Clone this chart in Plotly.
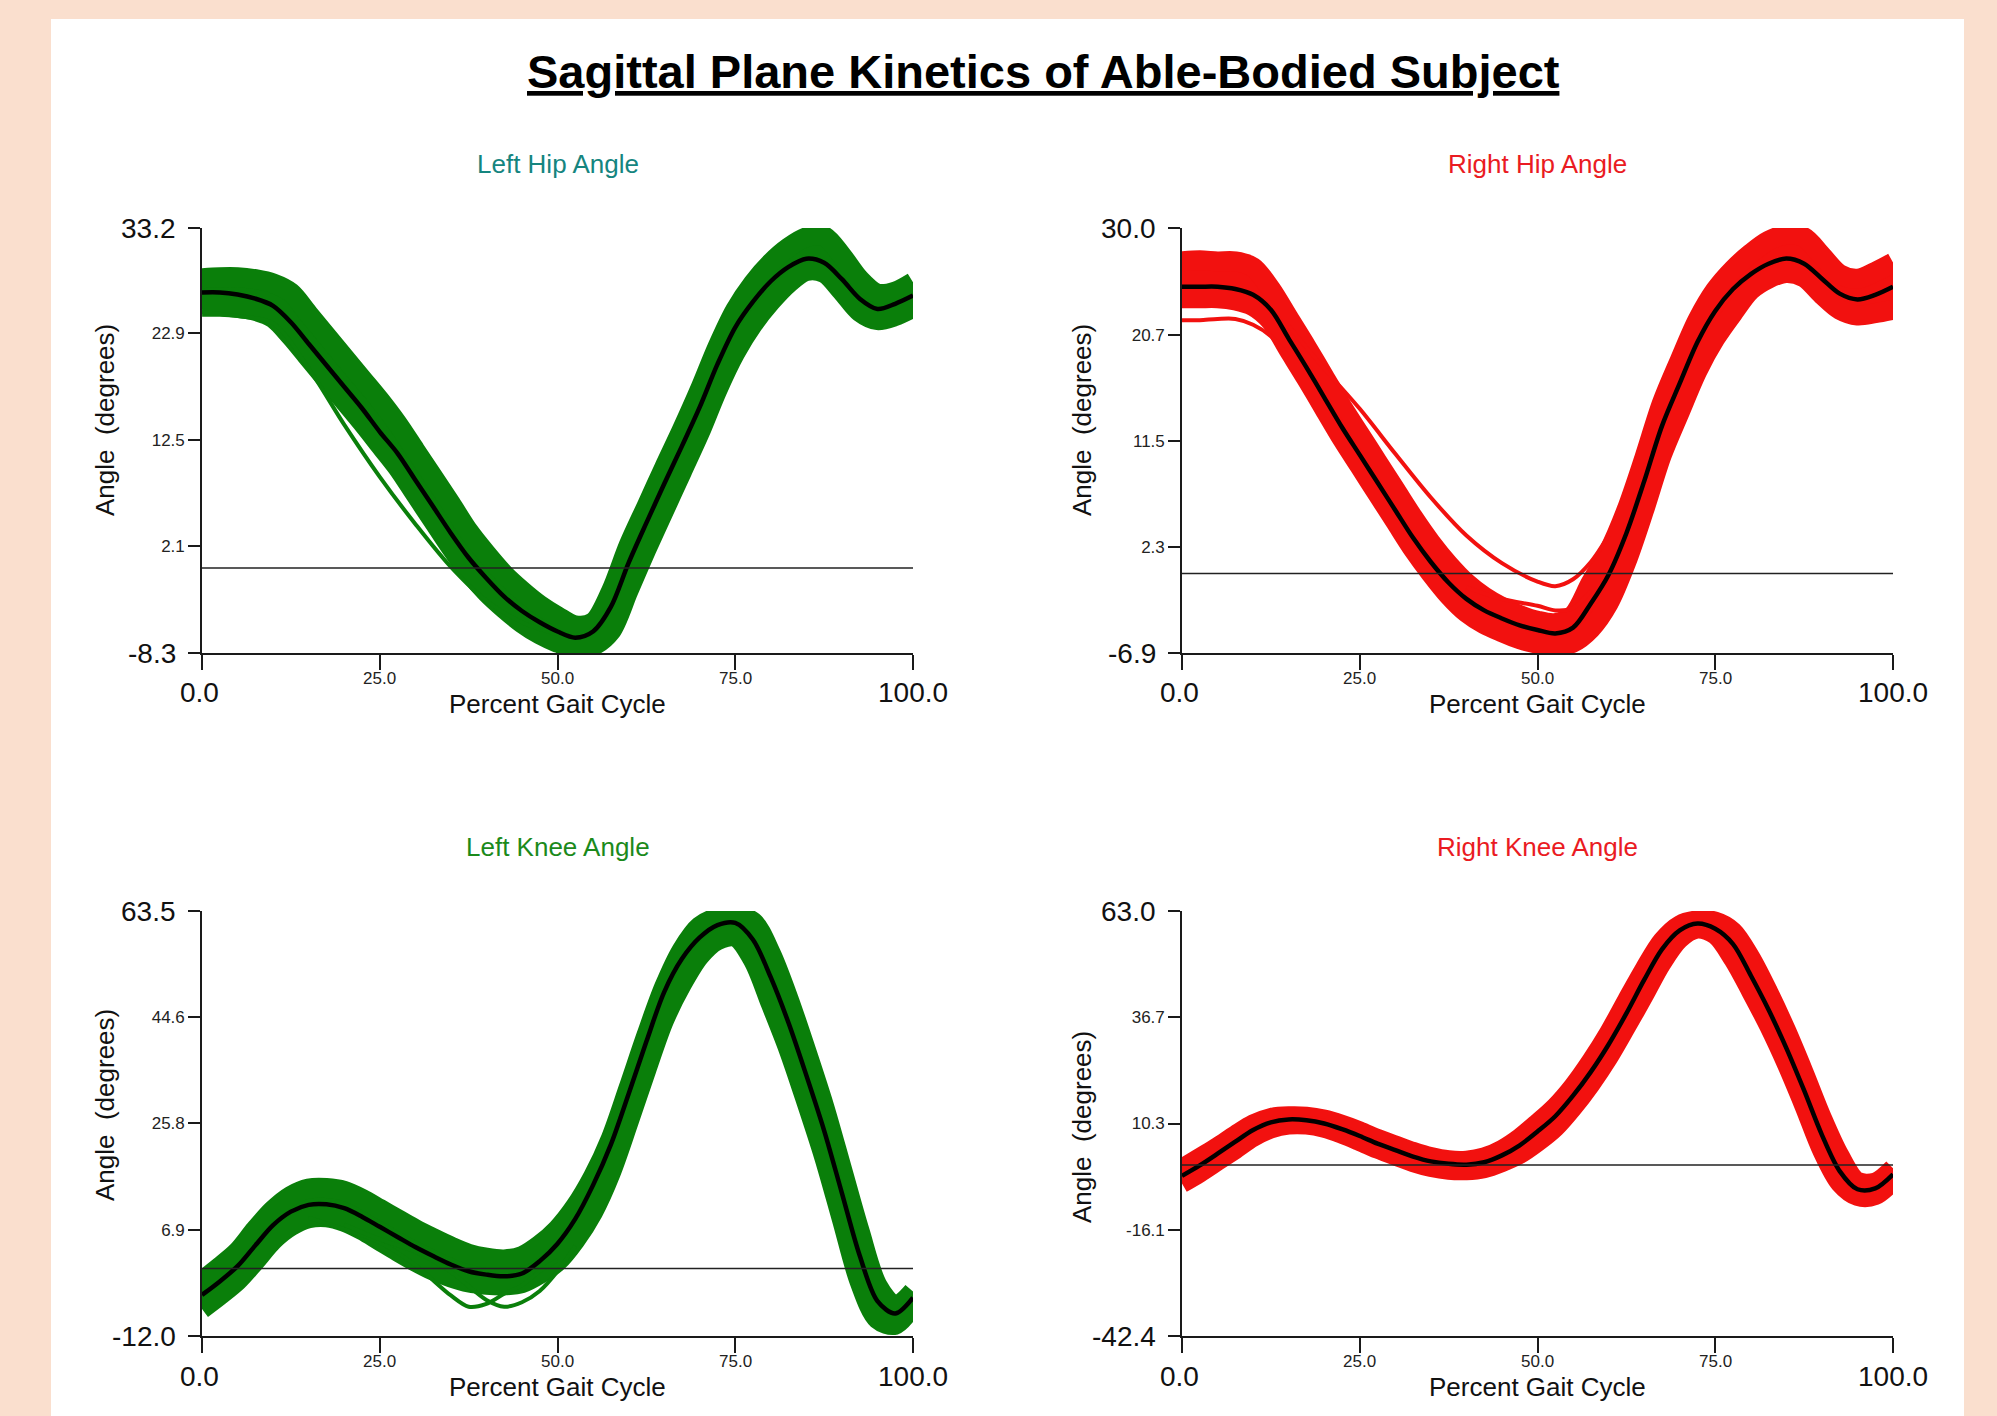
import plotly.graph_objects as go

# ---------------- data ----------------
X = [0, 2.5, 5, 7.5, 10, 12.5, 15, 17.5, 20, 22.5, 25, 27.5, 30, 32.5, 35, 37.5, 40,
     42.5, 45, 47.5, 50, 52.5, 55, 57.5, 60, 62.5, 65, 67.5, 70, 72.5, 75, 77.5, 80,
     82.5, 85, 87.5, 90, 92.5, 95, 97.5, 100]

# Left hip angle
lhip_mean = [26.9, 26.9, 26.7, 26.3, 25.6, 24.0, 21.9, 19.8, 17.7, 15.6, 13.3, 11.2, 8.6, 6.0,
             3.4, 1.0, -1.0, -2.8, -4.2, -5.3, -6.2, -6.8, -6.2, -3.8, 0.5, 4.4, 8.2, 11.9,
             15.7, 19.9, 23.5, 26.0, 28.0, 29.4, 30.2, 29.8, 28.2, 26.3, 25.3, 25.8, 26.6]
lhip_hi = [28.3, 28.4, 28.4, 28.2, 27.8, 26.9, 24.8, 22.7, 20.6, 18.5, 16.4, 14.1, 11.5, 8.9,
           6.3, 3.6, 1.4, -0.6, -2.2, -3.6, -4.7, -5.6, -5.3, -2.3, 2.2, 6.0, 9.8, 13.5,
           17.4, 21.6, 25.2, 27.8, 29.8, 31.3, 32.3, 32.4, 30.5, 28.2, 26.8, 27.0, 27.9]
lhip_lo = [25.5, 25.5, 25.4, 25.1, 24.4, 22.6, 20.5, 18.4, 16.3, 14.2, 12.0, 9.8, 7.2, 4.6,
           2.0, -0.4, -2.4, -4.0, -5.4, -6.5, -7.3, -7.8, -7.6, -6.2, -2.2, 1.8, 5.6, 9.4,
           13.2, 17.4, 21.0, 23.8, 26.0, 27.8, 29.0, 28.8, 27.0, 25.0, 24.2, 24.6, 25.4]
lhip_out_x = [0, 5, 10, 15, 20, 25, 30, 35, 40, 45, 50]
lhip_out = [25.0, 24.6, 23.9, 19.5, 14.0, 8.9, 4.3, 0.1, -3.2, -5.3, -6.5]

# Right hip angle
rhip_mean = [24.9, 24.9, 24.9, 24.7, 24.2, 22.9, 20.4, 17.9, 15.3, 12.7, 10.3, 7.9, 5.5, 3.1,
             1.0, -0.8, -2.2, -3.2, -3.9, -4.5, -4.9, -5.2, -4.7, -2.6, -0.1, 3.5, 8.0, 12.8,
             16.5, 20.1, 22.8, 24.7, 26.0, 26.9, 27.35, 26.9, 25.6, 24.3, 23.8, 24.2, 24.9]
rhip_hi = [27.1, 27.2, 27.1, 27.1, 26.6, 24.7, 22.2, 19.7, 17.1, 14.5, 12.1, 9.7, 7.3, 4.9,
           2.7, 0.8, -0.8, -2.0, -2.9, -3.6, -4.1, -4.3, -3.6, -0.8, 1.9, 5.5, 10.0, 14.8,
           18.5, 22.0, 24.6, 26.4, 27.8, 28.9, 29.4, 29.2, 27.6, 26.0, 25.6, 26.2, 27.0]
rhip_lo = [23.9, 23.9, 23.9, 23.7, 23.2, 21.9, 19.4, 16.9, 14.3, 11.7, 9.3, 6.9, 4.5, 2.1,
           0.0, -1.9, -3.4, -4.4, -5.1, -5.7, -6.1, -6.3, -6.0, -4.8, -2.6, 1.0, 5.5, 10.3,
           14.0, 17.6, 20.4, 22.6, 24.6, 25.6, 26.1, 25.7, 24.2, 22.9, 22.4, 22.6, 22.9]
rhip_outa_x = [0, 2.5, 5, 7.5, 10, 12.5, 15]
rhip_outa = [22.0, 22.0, 22.1, 22.1, 21.6, 20.6, 18.8]
rhip_outb_x = [15, 20, 25, 30, 35, 40, 45, 50, 52.5, 55, 57.5, 60]
rhip_outb = [21.5, 17.8, 14.3, 10.4, 6.6, 3.3, 0.9, -0.7, -1.1, -0.5, 1.0, 3.3]
rhip_outc_x = [40, 45, 50, 52.5, 55, 57.5]
rhip_outc = [-1.2, -2.2, -2.8, -3.2, -3.0, -1.5]

# Left knee angle
lknee_mean = [-4.7, -2.3, 0.4, 4.1, 7.7, 10.1, 11.3, 11.4, 10.7, 9.2, 7.4, 5.6, 3.8, 2.2,
              0.7, -0.5, -1.1, -1.4, -0.9, 1.3, 4.4, 8.8, 14.8, 22.0, 31.0, 40.3, 49.1, 55.0,
              58.8, 61.0, 61.4, 58.4, 51.7, 43.6, 34.3, 24.5, 13.4, 2.3, -5.8, -8.0, -5.2]
lknee_hi = [-2.2, 0.3, 3.0, 6.9, 10.4, 12.9, 14.2, 14.3, 13.8, 12.4, 10.6, 8.8, 7.0, 5.4,
            3.9, 2.6, 1.9, 1.6, 2.2, 4.2, 7.0, 11.0, 16.3, 23.1, 32.1, 41.4, 50.0, 56.6,
            60.8, 62.3, 62.6, 61.6, 56.0, 47.9, 38.6, 28.8, 17.7, 6.6, -3.0, -6.6, -4.1]
lknee_lo = [-7.2, -4.8, -2.2, 1.3, 5.0, 7.5, 8.9, 9.1, 8.3, 6.8, 4.9, 3.0, 1.2, -0.4,
            -1.6, -2.5, -2.9, -3.0, -2.6, -1.0, 1.2, 5.0, 10.0, 17.0, 26.0, 35.3, 44.1, 50.5,
            55.5, 58.3, 58.9, 54.8, 47.0, 38.9, 29.6, 19.8, 8.7, -2.4, -9.0, -10.0, -6.5]
lknee_out1_x = [15, 20, 25, 30, 35, 37.5, 40, 42.5, 45, 47.5, 50]
lknee_out1 = [9.0, 7.0, 4.6, 0.6, -4.8, -6.8, -6.3, -4.5, -3.0, -0.5, 1.5]
lknee_out2_x = [20, 25, 30, 35, 40, 42.5, 45, 47.5, 50, 52.5]
lknee_out2 = [7.8, 5.2, 3.0, -0.6, -5.6, -6.8, -6.0, -4.0, -0.5, 4.0]

# Right knee angle
rknee_mean = [-2.7, -0.1, 2.8, 5.8, 8.7, 10.6, 11.3, 11.1, 10.3, 8.9, 7.2, 5.3, 3.7, 2.1,
              0.9, 0.3, 0.1, 0.7, 2.4, 4.9, 8.3, 12.1, 17.2, 23.1, 29.9, 37.6, 45.9, 53.5,
              58.2, 59.9, 58.6, 54.8, 47.0, 38.5, 29.0, 18.5, 7.5, -1.5, -6.0, -5.8, -2.3]
rknee_hi = [-0.8, 1.9, 4.6, 7.5, 10.2, 11.8, 12.2, 12.1, 11.4, 10.1, 8.5, 6.6, 5.0, 3.4,
            2.1, 1.3, 1.2, 2.0, 3.9, 6.8, 10.5, 14.5, 19.6, 25.8, 32.8, 40.8, 48.6, 55.6,
            59.6, 60.8, 60.5, 58.0, 51.5, 43.0, 33.5, 23.0, 12.0, 2.5, -4.0, -4.2, -0.8]
rknee_lo = [-4.6, -2.0, 0.9, 3.8, 6.8, 8.9, 9.9, 9.9, 9.1, 7.6, 5.8, 3.9, 2.2, 0.6,
            -0.6, -1.3, -1.4, -0.9, 0.6, 2.6, 5.6, 9.2, 14.2, 20.0, 26.6, 34.2, 42.0, 50.0,
            56.0, 58.5, 57.0, 51.0, 43.0, 34.5, 25.0, 14.5, 3.5, -4.5, -7.8, -7.6, -4.0]

# axis tick values / labels
lhip_ticks = [-8.3, 2.1, 12.5, 22.9, 33.2]
rhip_ticks = [-6.9, 2.3, 11.5, 20.7, 30.0]
lknee_ticks = [-12.0, 6.9, 25.8, 44.6, 63.5]
rknee_ticks = [-42.4, -16.1, 10.3, 36.7, 63.0]
x_ticks = [0, 25, 50, 75, 100]
x_ticklabels = ["0.0", "25.0", "50.0", "75.0", "100.0"]

titles = ["Left Hip Angle", "Right Hip Angle", "Left Knee Angle", "Right Knee Angle"]
main_title = "Sagittal Plane Kinetics of Able-Bodied Subject"

# ---------------- styling ----------------
W, H = 1997, 1416
FONT = "Arial, 'Liberation Sans', Helvetica, sans-serif"
GREEN = "#0a7f0a"
RED = "#f2110f"
AXC = "#1a1a1a"
PEACH = "#fadfce"

def px(x):
    return x / W

def py(y):
    return 1 - y / H

# panel geometry in pixels: (left, right, top, bottom)
panels = [
    (202, 913, 228, 653),
    (1182, 1893, 228, 653),
    (202, 913, 911, 1336),
    (1182, 1893, 911, 1336),
]
title_colors = ["#15857f", "#ea1b22", "#1b8a1b", "#ea1b22"]
ytitle_pos = [(105, 420), (1082, 420), (105, 1105), (1082, 1127)]

fig = go.Figure()

panel_data = [
    dict(mean=lhip_mean, hi=lhip_hi, lo=lhip_lo, color=GREEN, w=20, ticks=lhip_ticks,
         outs=[(lhip_out_x, lhip_out)]),
    dict(mean=rhip_mean, hi=rhip_hi, lo=rhip_lo, color=RED, w=20, ticks=rhip_ticks,
         outs=[(rhip_outa_x, rhip_outa), (rhip_outb_x, rhip_outb), (rhip_outc_x, rhip_outc)]),
    dict(mean=lknee_mean, hi=lknee_hi, lo=lknee_lo, color=GREEN, w=20, ticks=lknee_ticks,
         outs=[(lknee_out1_x, lknee_out1), (lknee_out2_x, lknee_out2)]),
    dict(mean=rknee_mean, hi=rknee_hi, lo=rknee_lo, color=RED, w=19, ticks=rknee_ticks,
         outs=[]),
]

annotations = []
shapes = [dict(type="rect", xref="paper", yref="paper", x0=px(51), x1=px(1964),
               y0=-0.01, y1=py(19), fillcolor="white", line=dict(width=0), layer="below")]

SM = 0.9
for i, (pd_, geo) in enumerate(zip(panel_data, panels)):
    n = "" if i == 0 else str(i + 1)
    xa, ya = "x" + n, "y" + n
    col = pd_["color"]
    # trial band: upper and lower trials, area between them filled
    fig.add_trace(go.Scatter(x=X, y=pd_["hi"], xaxis=xa, yaxis=ya, mode="lines",
                             line=dict(color=col, width=pd_["w"], shape="spline", smoothing=SM),
                             hoverinfo="skip", showlegend=False))
    fig.add_trace(go.Scatter(x=X, y=pd_["lo"], xaxis=xa, yaxis=ya, mode="lines",
                             fill="tonexty", fillcolor=col,
                             line=dict(color=col, width=pd_["w"], shape="spline", smoothing=SM),
                             hoverinfo="skip", showlegend=False))
    for ox, oy in pd_["outs"]:
        fig.add_trace(go.Scatter(x=ox, y=oy, xaxis=xa, yaxis=ya, mode="lines",
                                 line=dict(color=col, width=4, shape="spline", smoothing=SM),
                                 hoverinfo="skip", showlegend=False))
    fig.add_trace(go.Scatter(x=X, y=pd_["mean"], xaxis=xa, yaxis=ya, mode="lines",
                             line=dict(color="black", width=4.5, shape="spline", smoothing=SM),
                             hoverinfo="skip", showlegend=False))

    L, R, T, B = geo
    ticks = pd_["ticks"]
    fig.update_layout(**{
        "xaxis" + n: dict(domain=[px(L), px(R)], anchor=ya, range=[0, 100],
                          tickvals=x_ticks, ticktext=[""] * len(x_ticks),
                          ticks="outside", ticklen=15, tickwidth=1.6, tickcolor=AXC,
                          showline=True, linecolor=AXC, linewidth=1.6,
                          showgrid=False, zeroline=False),
        "yaxis" + n: dict(domain=[py(B), py(T)], anchor=xa, range=[ticks[0], ticks[-1]],
                          tickvals=ticks,
                          ticktext=[""] + ["%.1f" % t for t in ticks[1:-1]] + [""],
                          ticks="outside", ticklen=12, tickwidth=1.6, tickcolor=AXC,
                          showline=True, linecolor=AXC, linewidth=1.6,
                          showgrid=False, zeroline=False,
                          tickfont=dict(family=FONT, size=17, color="#222")),
    })
    # zero reference line
    shapes.append(dict(type="line", xref=xa, yref=ya, x0=0, x1=100, y0=0, y1=0,
                       line=dict(color="#222", width=1.5), layer="above"))
    # x tick labels: end labels large, inner labels small and closer to the axis
    for xv, txt in zip(x_ticks, x_ticklabels):
        big = xv in (0, 100)
        annotations.append(dict(x=xv, xref=xa, y=py(B + (40 if big else 25)), yref="paper",
                                text=txt, showarrow=False, xanchor="center", yanchor="middle",
                                xshift=-3 if xv == 0 else 0,
                                font=dict(family=FONT, size=28 if big else 17,
                                          color="#111" if big else "#222")))
    # y end labels large
    for yv in (ticks[0], ticks[-1]):
        annotations.append(dict(x=px(L - 24), xref="paper", y=yv, yref=ya, text="%.1f" % yv,
                                showarrow=False, xanchor="right", yanchor="middle",
                                font=dict(family=FONT, size=28, color="#111")))
    # axis titles
    annotations.append(dict(x=px((L + R) / 2), xref="paper", y=py(B + 51), yref="paper",
                            text="Percent Gait Cycle", showarrow=False,
                            xanchor="center", yanchor="middle",
                            font=dict(family=FONT, size=26, color="#111")))
    tx, ty = ytitle_pos[i]
    annotations.append(dict(x=px(tx), xref="paper", y=py(ty), yref="paper",
                            text="Angle&nbsp; (degrees)", textangle=-90, showarrow=False,
                            xanchor="center", yanchor="middle",
                            font=dict(family=FONT, size=26, color="#111")))
    # panel title
    annotations.append(dict(x=px((L + R) / 2), xref="paper", y=py(T - 64), yref="paper",
                            text=titles[i], showarrow=False, xanchor="center", yanchor="middle",
                            font=dict(family=FONT, size=26, color=title_colors[i])))

annotations.append(dict(x=px(1043), xref="paper", y=py(72), yref="paper",
                        text="<b><u>" + main_title + "</u></b>", showarrow=False,
                        xanchor="center", yanchor="middle",
                        font=dict(family=FONT, size=47, color="black")))

fig.update_layout(width=W, height=H, margin=dict(l=0, r=0, t=0, b=0),
                  paper_bgcolor=PEACH, plot_bgcolor="white",
                  showlegend=False, annotations=annotations, shapes=shapes)

fig.write_html("out.html",
               config={"displayModeBar": False},
               post_script="document.body.style.margin='0';"
                           "document.body.style.background='" + PEACH + "';")
